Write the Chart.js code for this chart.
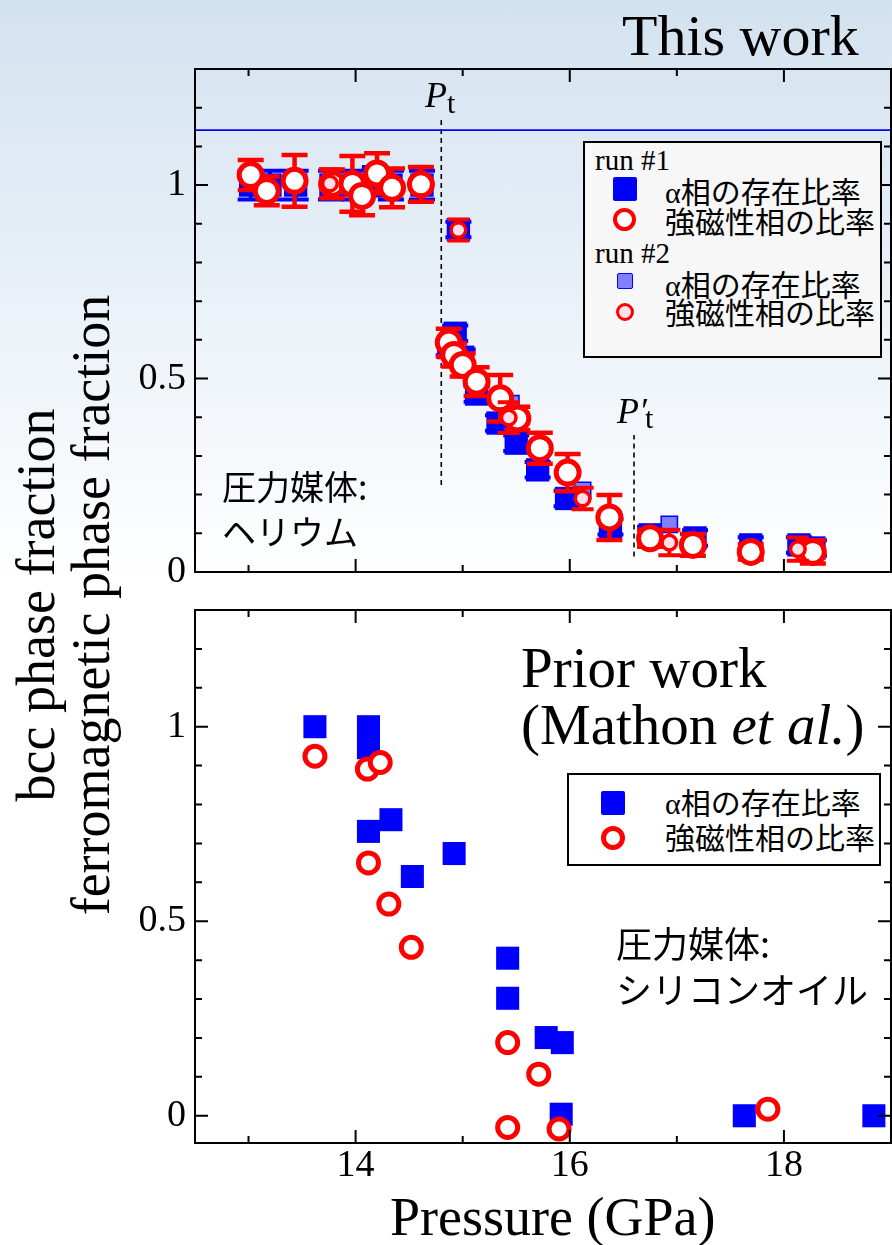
<!DOCTYPE html>
<html><head><meta charset="utf-8">
<script src="https://cdn.jsdelivr.net/npm/chart.js@4.4.1/dist/chart.umd.min.js"></script>
<style>
html,body{margin:0;padding:0;}
body{width:892px;height:1245px;position:relative;overflow:hidden;
  background:linear-gradient(to bottom,#d3e2f0 0px,#ffffff 585px,#ffffff 1245px);
  font-family:'Liberation Serif','Times New Roman',serif;color:#000;}
canvas{position:absolute;left:0;}
#c1{top:0;}
#c2{top:560px;}
.t{position:absolute;white-space:nowrap;line-height:1;color:#000;}
.jp{font-family:'Noto Sans CJK JP',sans-serif;}
.lg{position:absolute;border:2px solid #000;box-sizing:border-box;}
.sq{position:absolute;background:#0000ff;border-radius:2px;box-sizing:border-box;}
.ci{position:absolute;border-radius:50%;box-sizing:border-box;border:4px solid #ff0000;background:#fff;}
#ytitle{position:absolute;width:800px;height:110px;left:-336px;top:550px;transform:rotate(-90deg);transform-origin:50% 50%;
  text-align:center;font-size:54px;line-height:55px;white-space:nowrap;}
</style></head>
<body>
<canvas id="c1" width="892" height="620"></canvas>
<canvas id="c2" width="892" height="685"></canvas>

<div class="t" style="left:622px;top:7px;font-size:58px;">This work</div>
<div class="t" style="left:425px;top:77px;font-size:36px;font-style:italic;">P</div>
<div class="t" style="left:447px;top:88px;font-size:30px;">t</div>
<div class="t" style="left:617px;top:393px;font-size:36px;font-style:italic;">P′</div>
<div class="t" style="left:645px;top:403px;font-size:30px;">t</div>
<div class="t jp" style="left:222px;top:469px;font-size:34px;">圧力媒体:</div>
<div class="t jp" style="left:222px;top:514px;font-size:34px;">ヘリウム</div>

<div class="lg" style="left:583px;top:141px;width:299px;height:217px;background:#f7f7f7;"></div>
<div class="t" style="left:595px;top:146px;font-size:29px;">run #1</div>
<div class="sq" style="left:613px;top:177px;width:24px;height:24px;"></div>
<div class="t jp" style="left:665px;top:175px;font-size:30px;"><span style="font-family:'Liberation Serif',serif;">α</span>相の存在比率</div>
<div class="ci" style="left:613px;top:208px;width:23px;height:23px;"></div>
<div class="t jp" style="left:665px;top:205px;font-size:30px;">強磁性相の比率</div>
<div class="t" style="left:595px;top:239px;font-size:29px;">run #2</div>
<div class="sq" style="left:617px;top:273px;width:16px;height:16px;background:#8080ff;border:1.5px solid #0000ff;"></div>
<div class="t jp" style="left:665px;top:268px;font-size:30px;"><span style="font-family:'Liberation Serif',serif;">α</span>相の存在比率</div>
<div class="ci" style="left:616px;top:303px;width:18px;height:18px;border-width:3.5px;background:#ffe0ea;"></div>
<div class="t jp" style="left:665px;top:296px;font-size:30px;">強磁性相の比率</div>

<div class="t" style="left:521px;top:639px;font-size:57px;">Prior work</div>
<div class="t" style="left:521px;top:696px;font-size:57px;">(Mathon <i>et al.</i>)</div>
<div class="lg" style="left:567px;top:773px;width:314px;height:93px;background:#fff;"></div>
<div class="sq" style="left:601px;top:791px;width:24px;height:24px;"></div>
<div class="t jp" style="left:665px;top:786px;font-size:30px;"><span style="font-family:'Liberation Serif',serif;">α</span>相の存在比率</div>
<div class="ci" style="left:601px;top:826px;width:24px;height:24px;border-width:5px;"></div>
<div class="t jp" style="left:665px;top:821px;font-size:30px;">強磁性相の比率</div>
<div class="t jp" style="left:616px;top:924px;font-size:36px;">圧力媒体:</div>
<div class="t jp" style="left:616px;top:970px;font-size:36px;">シリコンオイル</div>

<div id="ytitle">bcc phase fraction<br>ferromagnetic phase fraction</div>
<div class="t" style="left:390px;top:1190px;font-size:54px;">Pressure (GPa)</div>

<script>
// ---------------- data ----------------
const xTickMajor = [14, 16, 18];
const xTickMinor = [13, 15, 17];
const yTickMajor = [0, 0.5, 1];
const yTickMinor = [0.1, 0.2, 0.3, 0.4, 0.6, 0.7, 0.8, 0.9, 1.1, 1.2];

// This work, run #1 : alpha phase fraction (blue squares)
const run1AlphaP   = [13.02, 13.20, 13.44, 13.77, 13.99, 14.18, 14.33, 14.62, 14.96, 14.87, 14.93, 15.00, 15.13, 15.33, 15.50, 15.70, 15.97, 16.38, 16.75, 17.17, 17.69, 18.14, 18.28];
const run1AlphaF   = [1.00, 1.00, 1.00, 1.00, 1.00, 1.01, 1.00, 1.00, 0.885, 0.58, 0.617, 0.555, 0.46, 0.385, 0.333, 0.264, 0.19, 0.117, 0.096, 0.088, 0.07, 0.07, 0.062];
const run1AlphaErr = [0.037, 0.037, 0.037, 0.037, 0.037, 0.037, 0.037, 0.037, 0.02, 0.02, 0.02, 0.02, 0.02, 0.02, 0.02, 0.02, 0.02, 0.02, 0.02, 0.02, 0.02, 0.02, 0.02];

// This work, run #1 : ferromagnetic fraction (red open circles)
const run1FerroP   = [13.02, 13.17, 13.43, 13.78, 13.97, 14.06, 14.20, 14.34, 14.61, 14.87, 14.92, 15.00, 15.13, 15.35, 15.51, 15.72, 15.98, 16.37, 16.75, 17.15, 17.69, 18.27];
const run1FerroF   = [1.026, 0.985, 1.011, 1.003, 1.003, 0.972, 1.030, 0.993, 1.002, 0.593, 0.561, 0.535, 0.492, 0.449, 0.397, 0.320, 0.257, 0.141, 0.087, 0.070, 0.052, 0.052];
const run1FerroErr = [0.039, 0.037, 0.067, 0.037, 0.072, 0.05, 0.052, 0.05, 0.045, 0.036, 0.03, 0.03, 0.037, 0.06, 0.03, 0.04, 0.048, 0.058, 0.022, 0.028, 0.02, 0.03];

// This work, run #2
const run2AlphaP   = [15.45, 16.12, 16.93];
const run2AlphaF   = [0.435, 0.211, 0.123];
const run2FerroP   = [13.76, 14.96, 15.43, 16.12, 16.93, 18.13];
const run2FerroF   = [1.004, 0.884, 0.399, 0.190, 0.076, 0.059];
const run2FerroErr = [0.037, 0.027, 0.04, 0.028, 0.033, 0.03];

// Reference line and transition pressures
const refLineP = [12.5, 19];
const refLineF = [1.142, 1.142];
const ptP  = [14.8, 14.8];
const ptF  = [0.225, 1.173];
const pt2P = [16.6, 16.6];
const pt2F = [0.04, 0.354];

// Prior work (Mathon et al.)
const mathonAlphaP = [13.62, 14.12, 14.12, 14.12, 14.33, 14.53, 14.92, 15.42, 15.42, 15.78, 15.93, 15.92, 17.63, 18.84];
const mathonAlphaF = [1.0, 1.0, 0.946, 0.731, 0.761, 0.615, 0.674, 0.405, 0.302, 0.201, 0.188, 0.004, 0.0, 0.0];
const mathonFerroP = [13.62, 14.11, 14.23, 14.12, 14.31, 14.52, 15.42, 15.71, 15.42, 15.90, 17.85];
const mathonFerroF = [0.924, 0.891, 0.908, 0.65, 0.544, 0.433, 0.188, 0.107, -0.030, -0.034, 0.017];

// ---------------- helpers ----------------
const pts = (xs, ys) => xs.map((x, i) => ({x: x, y: ys[i]}));
const SERIF = "'Liberation Serif','Times New Roman',serif";
Chart.defaults.font.family = SERIF;
Chart.defaults.color = '#000';

const errorPlugin = {
  id: 'errbars',
  beforeDatasetDraw(chart, args) {
    const ds = chart.data.datasets[args.index];
    if (!ds.errs) return;
    const xs = chart.scales.x, ys = chart.scales.y, ctx = chart.ctx;
    ctx.save();
    ctx.strokeStyle = ds.errColor;
    ctx.lineWidth = ds.errWidth;
    ds.data.forEach((p, i) => {
      const e = ds.errs[i];
      if (!e) return;
      const px = xs.getPixelForValue(p.x);
      const y1 = ys.getPixelForValue(p.y + e), y2 = ys.getPixelForValue(p.y - e);
      const hw = ds.errCap / 2;
      ctx.beginPath();
      ctx.moveTo(px, y1); ctx.lineTo(px, y2);
      ctx.moveTo(px - hw, y1); ctx.lineTo(px + hw, y1);
      ctx.moveTo(px - hw, y2); ctx.lineTo(px + hw, y2);
      ctx.stroke();
    });
    ctx.restore();
  }
};

const framePlugin = {
  id: 'frame',
  afterDatasetsDraw(chart) {
    const ctx = chart.ctx, a = chart.chartArea, xs = chart.scales.x, ys = chart.scales.y;
    ctx.save();
    ctx.strokeStyle = '#000';
    ctx.lineWidth = 2;
    ctx.strokeRect(a.left, a.top, a.right - a.left, a.bottom - a.top);
    ctx.beginPath();
    const xt = (v, len) => {
      const px = xs.getPixelForValue(v);
      ctx.moveTo(px, a.bottom); ctx.lineTo(px, a.bottom - len);
      ctx.moveTo(px, a.top); ctx.lineTo(px, a.top + len);
    };
    const yt = (v, len) => {
      if (v < ys.min || v > ys.max) return;
      const py = ys.getPixelForValue(v);
      ctx.moveTo(a.left, py); ctx.lineTo(a.left + len, py);
      ctx.moveTo(a.right, py); ctx.lineTo(a.right - len, py);
    };
    xTickMajor.forEach(v => xt(v, 13));
    xTickMinor.forEach(v => xt(v, 7));
    yTickMajor.forEach(v => yt(v, 13));
    yTickMinor.forEach(v => yt(v, 7));
    ctx.stroke();
    ctx.restore();
  }
};

const fmt = v => String(Math.round(v * 10) / 10);
const yAxis = (min, max) => ({
  type: 'linear', min: min, max: max,
  ticks: {stepSize: 0.5, includeBounds: false, padding: 9, color: '#000', font: {size: 38, family: SERIF}, callback: fmt},
  grid: {display: false, drawTicks: false},
  border: {display: false},
  afterFit(s) { s.width = 195; }
});

// ---------------- top chart ----------------
new Chart(document.getElementById('c1'), {
  type: 'scatter',
  data: {
    datasets: [
      {label: 'run #2 強磁性相の比率', data: pts(run2FerroP, run2FerroF), pointStyle: 'circle', pointRadius: 7.3,
       pointBorderWidth: 3.5, pointBorderColor: '#ff0000', pointBackgroundColor: '#ffe0ea',
       errs: run2FerroErr, errColor: '#ff0000', errWidth: 4, errCap: 22, clip: false},
      {label: 'run #1 強磁性相の比率', data: pts(run1FerroP, run1FerroF), pointStyle: 'circle', pointRadius: 11.5,
       pointBorderWidth: 5, pointBorderColor: '#ff0000', pointBackgroundColor: '#ffffff',
       errs: run1FerroErr, errColor: '#ff0000', errWidth: 4.5, errCap: 26, clip: false},
      {label: 'run #2 α相の存在比率', data: pts(run2AlphaP, run2AlphaF), pointStyle: 'rect', pointRadius: 11.5,
       pointBorderWidth: 1.5, pointBorderColor: '#0000ff', pointBackgroundColor: '#8080ff', clip: false},
      {label: 'run #1 α相の存在比率', data: pts(run1AlphaP, run1AlphaF), pointStyle: 'rect', pointRadius: 16.5,
       pointBorderWidth: 0, pointBorderColor: '#0000ff', pointBackgroundColor: '#0000ff',
       errs: run1AlphaErr, errColor: '#0000ff', errWidth: 4, errCap: 26, clip: false},
      {label: 'ref', data: pts(refLineP, refLineF), showLine: true, borderColor: '#0000ff', borderWidth: 1.8,
       pointRadius: 0, clip: false},
      {label: 'Pt', data: pts(ptP, ptF), showLine: true, borderColor: '#000', borderWidth: 1.6, borderDash: [5, 4],
       pointRadius: 0, clip: false},
      {label: "P't", data: pts(pt2P, pt2F), showLine: true, borderColor: '#000', borderWidth: 1.6, borderDash: [5, 4],
       pointRadius: 0, clip: false}
    ]
  },
  options: {
    responsive: false, animation: false, devicePixelRatio: 1,
    layout: {autoPadding: false, padding: {top: 69, right: 1, left: 0, bottom: 0}},
    plugins: {legend: {display: false}, tooltip: {enabled: false}},
    scales: {
      x: {type: 'linear', min: 12.5, max: 19, ticks: {display: false}, grid: {display: false, drawTicks: false},
          border: {display: false}, afterFit(s) { s.height = 48; }},
      y: yAxis(0, 1.3)
    }
  },
  plugins: [errorPlugin, framePlugin]
});

// ---------------- bottom chart ----------------
new Chart(document.getElementById('c2'), {
  type: 'scatter',
  data: {
    datasets: [
      {label: '強磁性相の比率', data: pts(mathonFerroP, mathonFerroF), pointStyle: 'circle', pointRadius: 10,
       pointBorderWidth: 5, pointBorderColor: '#ff0000', pointBackgroundColor: '#ffffff', clip: false},
      {label: 'α相の存在比率', data: pts(mathonAlphaP, mathonAlphaF), pointStyle: 'rect', pointRadius: 16.3,
       pointBorderWidth: 0, pointBorderColor: '#0000ff', pointBackgroundColor: '#0000ff', clip: false}
    ]
  },
  options: {
    responsive: false, animation: false, devicePixelRatio: 1,
    layout: {autoPadding: false, padding: {top: 50, right: 1, left: 0, bottom: 0}},
    plugins: {legend: {display: false}, tooltip: {enabled: false}},
    scales: {
      x: {type: 'linear', min: 12.5, max: 19,
          ticks: {stepSize: 2, includeBounds: false, padding: 0, color: '#000', font: {size: 38, family: SERIF}},
          grid: {display: false, drawTicks: false}, border: {display: false},
          afterFit(s) { s.height = 102; }},
      y: yAxis(-0.07, 1.3)
    }
  },
  plugins: [framePlugin]
});
</script>
</body></html>
